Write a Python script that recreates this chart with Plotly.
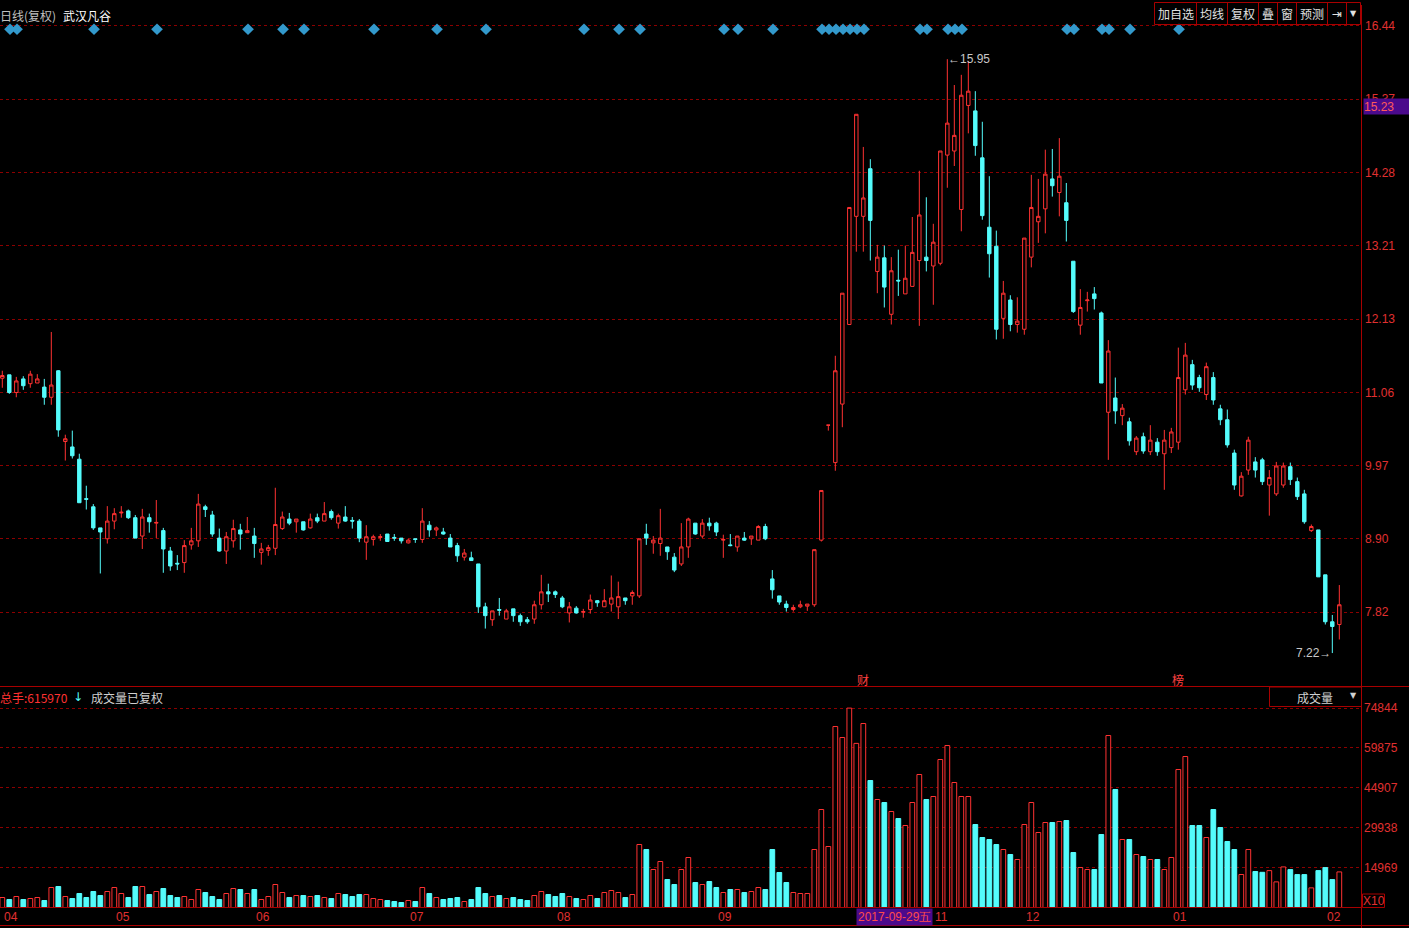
import plotly.graph_objects as go

# ---------------- data ----------------
open_ = [
    11.26, 11.31, 11.05, 11.25, 11.18, 11.19, 11.13, 10.98, 11.37, 10.33,
    10.25, 10.07, 9.49, 9.37, 9.06, 8.90, 9.16, 9.28, 9.31, 9.21,
    8.94, 9.21, 9.13, 9.02, 8.72, 8.54, 8.55, 8.81, 8.87, 9.37,
    9.25, 8.91, 8.72, 8.87, 9.03, 8.99, 8.94, 8.70, 8.73, 8.76,
    9.05, 9.19, 9.15, 9.15, 9.06, 9.21, 9.16, 9.30, 9.13, 9.22,
    9.17, 9.16, 8.85, 8.89, 8.92, 8.97, 8.92, 8.91, 8.84, 8.90,
    8.89, 9.10, 9.03, 9.00, 8.91, 8.80, 8.63, 8.62, 8.53, 7.90,
    7.71, 7.86, 7.72, 7.87, 7.77, 7.71, 7.72, 7.93, 8.12, 8.12,
    8.03, 7.81, 7.88, 7.82, 7.86, 7.99, 7.90, 7.94, 7.90, 8.03,
    8.06, 8.06, 8.97, 8.84, 8.83, 8.78, 8.63, 8.53, 8.78, 9.13,
    8.94, 9.13, 9.13, 8.88, 8.81, 8.78, 8.91, 8.90, 8.88, 9.08,
    8.31, 8.06, 7.94, 7.86, 7.90, 7.91, 7.93, 8.88, 10.57, 10.02,
    10.88, 12.05, 13.64, 13.64, 14.34, 12.83, 13.03, 12.20, 12.70, 12.50,
    12.61, 12.99, 13.04, 12.91, 12.95, 14.54, 14.60, 13.74, 15.27, 15.19,
    14.50, 13.48, 13.20, 12.14, 12.41, 12.05, 11.98, 13.04, 13.56, 13.75,
    14.19, 13.99, 13.84, 12.98, 12.04, 12.40, 12.50, 12.22, 10.76, 10.97,
    10.71, 10.62, 10.18, 10.40, 10.18, 10.32, 10.15, 10.24, 10.32, 11.09,
    11.46, 11.27, 11.02, 11.27, 10.81, 10.65, 10.16, 9.53, 9.91, 10.03,
    10.06, 9.69, 9.56, 9.69, 9.96, 9.74, 9.56, 9.02, 9.03, 8.37,
    7.68, 7.64,
]
high = [
    11.37, 11.31, 11.28, 11.29, 11.37, 11.32, 11.25, 11.94, 11.38, 10.43,
    10.49, 10.15, 9.68, 9.41, 9.06, 9.38, 9.35, 9.38, 9.33, 9.25,
    9.34, 9.27, 9.47, 9.06, 8.78, 8.66, 8.88, 9.06, 9.56, 9.40,
    9.31, 9.05, 9.00, 9.18, 9.12, 9.22, 9.06, 8.84, 8.81, 9.65,
    9.30, 9.28, 9.19, 9.15, 9.27, 9.27, 9.44, 9.33, 9.27, 9.38,
    9.22, 9.19, 9.10, 8.96, 8.97, 8.97, 8.97, 8.91, 8.90, 8.90,
    9.35, 9.16, 9.08, 9.06, 8.97, 8.84, 8.75, 8.71, 8.53, 7.96,
    7.84, 8.03, 7.87, 7.87, 7.80, 7.75, 7.99, 8.37, 8.24, 8.14,
    8.06, 7.97, 7.91, 7.87, 8.08, 8.00, 8.16, 8.36, 8.27, 8.03,
    8.14, 8.90, 9.12, 8.94, 9.34, 8.78, 8.69, 9.13, 9.21, 9.13,
    9.19, 9.21, 9.15, 8.96, 8.97, 8.94, 9.00, 8.94, 9.10, 9.12,
    8.44, 8.06, 7.99, 7.93, 7.99, 7.94, 8.74, 9.61, 10.57, 11.59,
    12.51, 13.77, 15.14, 14.66, 14.48, 13.22, 13.21, 13.04, 13.15, 13.21,
    13.63, 14.31, 13.92, 13.53, 14.60, 15.95, 15.57, 15.72, 15.92, 15.48,
    15.03, 14.23, 13.43, 12.69, 12.48, 12.45, 13.32, 14.25, 14.19, 14.62,
    14.63, 14.79, 14.13, 12.98, 12.57, 12.53, 12.60, 12.24, 11.82, 11.27,
    10.88, 10.68, 10.41, 10.46, 10.57, 10.38, 10.50, 10.53, 11.71, 11.78,
    11.53, 11.31, 11.49, 11.35, 10.87, 10.80, 10.21, 9.88, 10.40, 10.10,
    10.09, 9.91, 10.03, 10.02, 10.02, 9.80, 9.62, 9.11, 9.03, 8.37,
    7.78, 8.22,
]
low = [
    11.12, 11.03, 10.98, 11.09, 11.12, 11.19, 10.87, 10.87, 10.40, 10.05,
    10.08, 9.43, 9.33, 9.03, 8.39, 8.83, 9.04, 9.21, 9.19, 8.91,
    8.75, 8.99, 8.91, 8.40, 8.43, 8.44, 8.40, 8.74, 8.78, 9.22,
    8.93, 8.71, 8.53, 8.77, 8.74, 8.99, 8.62, 8.52, 8.65, 8.66,
    9.03, 9.10, 8.99, 9.02, 9.05, 9.13, 9.16, 9.18, 9.05, 9.15,
    9.05, 8.85, 8.59, 8.80, 8.87, 8.86, 8.87, 8.83, 8.83, 8.84,
    8.84, 8.93, 8.94, 8.96, 8.78, 8.56, 8.58, 8.58, 7.81, 7.58,
    7.62, 7.77, 7.72, 7.68, 7.62, 7.65, 7.65, 7.86, 7.97, 8.03,
    7.88, 7.67, 7.80, 7.74, 7.80, 7.90, 7.90, 7.83, 7.72, 7.93,
    7.93, 8.03, 8.81, 8.68, 8.65, 8.59, 8.41, 8.50, 8.62, 8.96,
    8.91, 9.02, 8.94, 8.62, 8.79, 8.71, 8.87, 8.81, 8.88, 8.88,
    8.02, 7.93, 7.83, 7.83, 7.88, 7.84, 7.90, 8.86, 10.49, 9.90,
    10.54, 12.05, 13.12, 13.12, 12.99, 12.51, 12.30, 12.05, 12.47, 12.50,
    12.61, 12.03, 12.83, 12.34, 12.92, 14.06, 14.38, 13.42, 14.86, 14.53,
    13.59, 12.74, 11.83, 11.84, 11.95, 11.93, 11.90, 12.89, 13.25, 13.39,
    13.93, 13.64, 13.27, 12.22, 11.90, 12.24, 12.27, 11.19, 10.06, 10.59,
    10.57, 10.27, 10.13, 10.15, 10.13, 10.12, 9.62, 10.16, 10.21, 11.02,
    11.09, 11.06, 10.94, 10.87, 10.57, 10.24, 9.62, 9.52, 9.84, 9.80,
    9.69, 9.24, 9.53, 9.65, 9.69, 9.47, 9.12, 9.00, 8.34, 7.64,
    7.22, 7.42,
]
close = [
    11.30, 11.05, 11.22, 11.15, 11.32, 11.25, 10.98, 11.16, 10.50, 10.37,
    10.12, 9.43, 9.48, 9.06, 9.00, 9.16, 9.27, 9.29, 9.21, 8.91,
    9.22, 9.15, 9.14, 8.75, 8.50, 8.53, 8.80, 8.87, 9.41, 9.33,
    8.97, 8.72, 8.93, 9.05, 8.97, 9.02, 8.83, 8.75, 8.77, 9.11,
    9.22, 9.13, 9.19, 9.03, 9.19, 9.16, 9.27, 9.21, 9.24, 9.16,
    9.16, 8.91, 8.93, 8.93, 8.93, 8.86, 8.91, 8.87, 8.88, 8.89,
    9.16, 9.03, 9.06, 8.97, 8.78, 8.65, 8.69, 8.58, 7.90, 7.77,
    7.84, 7.85, 7.84, 7.77, 7.68, 7.68, 7.93, 8.12, 8.09, 8.08,
    7.90, 7.90, 7.81, 7.83, 8.00, 7.96, 7.99, 8.03, 8.05, 7.99,
    8.11, 8.90, 8.91, 8.88, 8.91, 8.71, 8.44, 8.78, 9.19, 8.97,
    9.13, 9.09, 9.00, 8.89, 8.80, 8.94, 8.88, 8.94, 9.08, 8.90,
    8.15, 7.97, 7.89, 7.89, 7.93, 7.94, 8.74, 9.61, 10.57, 11.37,
    12.51, 13.77, 15.14, 13.91, 13.58, 13.04, 12.60, 12.84, 12.69, 12.73,
    13.11, 13.66, 12.99, 13.26, 14.60, 15.01, 14.83, 15.42, 15.48, 14.68,
    13.65, 13.09, 11.98, 12.51, 12.05, 12.10, 13.32, 13.77, 13.64, 14.26,
    14.09, 14.23, 13.58, 12.24, 12.30, 12.41, 12.43, 11.19, 11.66, 10.78,
    10.82, 10.34, 10.38, 10.19, 10.35, 10.18, 10.35, 10.47, 11.27, 11.60,
    11.16, 11.12, 11.43, 10.94, 10.65, 10.28, 9.69, 9.82, 10.35, 9.91,
    9.74, 9.80, 9.97, 9.97, 9.77, 9.52, 9.15, 9.08, 8.34, 7.68,
    7.61, 7.93,
]
# volume in the units shown on the axis (x10 hands)
volume = [
    3753, 3002, 4128, 3002, 3378, 3753, 2627, 7506, 7881, 4128,
    3378, 5254, 3753, 6005, 4504, 6005, 7506, 5254, 3753, 7881,
    7881, 4879, 6005, 7131, 4504, 3753, 4128, 3002, 6755, 5630,
    4128, 3002, 5254, 7131, 6755, 5254, 6755, 3002, 4128, 8632,
    5630, 3753, 4504, 4504, 4128, 4504, 3753, 3378, 5254, 4879,
    4128, 4879, 4879, 3378, 3002, 2627, 2252, 1877, 2627, 2252,
    7506, 5254, 3753, 3002, 3378, 3753, 2252, 3002, 7506, 5254,
    4128, 4504, 3378, 3753, 3002, 2627, 4504, 6005, 4879, 4128,
    5254, 4128, 3378, 3002, 4504, 3378, 5630, 6380, 5630, 3753,
    4879, 23644, 21767, 14261, 17264, 10508, 8632, 14261, 18765, 9383,
    8632, 9758, 7506, 5630, 6755, 6755, 5630, 6005, 7506, 6755,
    21767, 13136, 9383, 5630, 5254, 5254, 21767, 36779, 22893, 67929,
    63801, 74844, 61597, 69055, 47663, 40532, 39407, 36029, 33402, 30775,
    39407, 49915, 40532, 41658, 55544, 60799, 46913, 41658, 41658, 31150,
    26271, 25520, 23644, 21767, 19891, 18014, 31150, 39407, 28148, 31901,
    31901, 32276, 32651, 20642, 15012, 14261, 14261, 27397, 64552, 44285,
    25520, 25520, 19891, 19140, 18014, 18014, 14261, 18765, 51791, 56670,
    30775, 30775, 26271, 36779, 30024, 24770, 21767, 12385, 21767, 13511,
    13209, 13845, 9617, 15230, 14220, 12349, 12349, 7372, 13845, 14968,
    10478, 13359,
]
signal_days = [1, 2, 13, 22, 35, 40, 43, 53, 62, 69, 83, 88, 91, 103, 105, 110,
               117, 118, 119, 120, 121, 122, 123, 131, 132, 135, 136, 137,
               152, 153, 157, 158, 161, 168]
month_ticks = [0, 16, 36, 58, 79, 102, 133, 146, 167, 189]
month_labels = ["04", "05", "06", "07", "08", "09", "11", "12", "01", "02"]
price_ticks = [16.44, 15.3625, 14.285, 13.2075, 12.13, 11.0525, 9.975, 8.8975, 7.82]
price_labels = ["16.44", "15.37", "14.28", "13.21", "12.13", "11.06", "9.97", "8.90", "7.82"]
vol_ticks = [14969, 29938, 44907, 59875, 74844]
vol_labels = ["14969", "29938", "44907", "59875", "74844"]
cursor_day = 122
cursor_label = "2017-09-29五"
cursor_price = "15.23"
total_hands = "615970"
high_day, high_label = 135, "15.95"
low_day, low_label = 190, "7.22"
event_marks = [(123, "财"), (168, "榜")]

# ---------------- styling ----------------
W, H = 1409, 928
RED = "#ff3232"
CYAN = "#54fcfc"
AXRED = "#e03030"
GRID = "#8c0000"
FRAME = "#a80000"
NUMFONT = "Liberation Sans, Arial, sans-serif"
CJK = "Noto Sans CJK SC, sans-serif"
PLOT_R = 1362   # right edge of the plotting area in pixels


def px(x):
    # paper coordinates span the plotting area (0..PLOT_R px)
    return x / PLOT_R


def py(y):
    return 1 - y / H


n = len(close)
idx = list(range(n))

# colours of volume bars follow the candle direction
up = []
for i in range(n):
    if close[i] > open_[i]:
        up.append(True)
    elif close[i] < open_[i]:
        up.append(False)
    else:
        up.append(close[i] >= (close[i - 1] if i else close[i]))

fig = go.Figure()
fig.add_trace(go.Candlestick(
    x=idx, open=open_, high=high, low=low, close=close,
    increasing=dict(line=dict(color=RED, width=1), fillcolor="#000000"),
    decreasing=dict(line=dict(color=CYAN, width=1), fillcolor=CYAN),
    whiskerwidth=0, hoverinfo="skip", xaxis="x", yaxis="y", showlegend=False,
))
fig.add_trace(go.Bar(
    x=idx, y=volume, width=0.68,
    marker=dict(color=["#000000" if u else CYAN for u in up],
                line=dict(color=[RED if u else CYAN for u in up], width=1)),
    xaxis="x", yaxis="y2", hoverinfo="skip", showlegend=False,
))
fig.add_trace(go.Scatter(
    x=[d + 0.1 for d in signal_days], y=[16.39] * len(signal_days), mode="markers",
    marker=dict(symbol="diamond", size=9, color="#3399cc", line=dict(width=0)),
    xaxis="x", yaxis="y", hoverinfo="skip", showlegend=False,
))

ann = []
# month labels on the time axis
for t, lab in zip(month_ticks, month_labels):
    ann.append(dict(x=max(t, -0.3), y=py(917), xref="x", yref="paper", text=lab,
                    showarrow=False, xanchor="left", yanchor="middle",
                    font=dict(family=NUMFONT, size=12, color=AXRED)))
# cursor date label
ann.append(dict(x=cursor_day - 0.05, y=py(916.5), xref="x", yref="paper", text=cursor_label,
                showarrow=False, xanchor="left", yanchor="middle", bgcolor="#4b0a8c",
                borderpad=1, font=dict(family=NUMFONT, size=12, color="#ff4a4a")))
# cursor price label
ann.append(dict(x=px(PLOT_R + 1), y=py(106.5), xref="paper", yref="paper", text=cursor_price,
                showarrow=False, xanchor="left", yanchor="middle", bgcolor="#4b0a8c",
                width=45, height=15, align="left", borderpad=0,
                font=dict(family=NUMFONT, size=12, color="#ff5a5a")))
# high / low marks
ann.append(dict(x=high_day, y=high[high_day], xref="x", yref="y", text="←" + high_label,
                showarrow=False, xanchor="left", yanchor="middle", xshift=-1,
                font=dict(family=NUMFONT, size=12, color="#c8c8c8")))
ann.append(dict(x=low_day, y=low[low_day], xref="x", yref="y", text=low_label + "→",
                showarrow=False, xanchor="right", yanchor="middle", xshift=1,
                font=dict(family=NUMFONT, size=12, color="#c8c8c8")))
# event marks
for d, t in event_marks:
    ann.append(dict(x=d, y=py(679), xref="x", yref="paper", text=t, showarrow=False,
                    xanchor="center", yanchor="middle",
                    font=dict(family=CJK, size=12, color="#ff4040")))
# title
ann.append(dict(x=px(-2), y=py(15), xref="paper", yref="paper", text="日线(复权)",
                showarrow=False, xanchor="left", yanchor="middle",
                font=dict(family=CJK, size=12, color="#c0c0c0")))
ann.append(dict(x=px(61), y=py(15), xref="paper", yref="paper", text="武汉凡谷",
                showarrow=False, xanchor="left", yanchor="middle",
                font=dict(family=CJK, size=12, color="#ffffff")))
# volume header
ann.append(dict(x=px(-2), y=py(697), xref="paper", yref="paper", text="总手:" + total_hands,
                showarrow=False, xanchor="left", yanchor="middle",
                font=dict(family=CJK, size=12, color=RED)))
ann.append(dict(x=px(71), y=py(697), xref="paper", yref="paper", text="↓",
                showarrow=False, xanchor="left", yanchor="middle",
                font=dict(family="DejaVu Sans", size=12, color=CYAN)))
ann.append(dict(x=px(89), y=py(697), xref="paper", yref="paper", text="成交量已复权",
                showarrow=False, xanchor="left", yanchor="middle",
                font=dict(family=CJK, size=12, color="#d0d0d0")))
# volume selector
ann.append(dict(x=px(1315), y=py(697), xref="paper", yref="paper", text="成交量",
                showarrow=False, xanchor="center", yanchor="middle",
                font=dict(family=CJK, size=12, color="#d0d0d0")))
ann.append(dict(x=px(1353), y=py(695), xref="paper", yref="paper", text="▼",
                showarrow=False, xanchor="center", yanchor="middle",
                font=dict(family="DejaVu Sans", size=8, color="#d0d0d0")))
ann.append(dict(x=px(1373.5), y=py(901), xref="paper", yref="paper", text="X10",
                showarrow=False, xanchor="center", yanchor="middle",
                font=dict(family=NUMFONT, size=12, color=AXRED)))
# toolbar buttons
buttons = [("加自选", 1175.5), ("均线", 1212), ("复权", 1243), ("叠", 1267.5),
           ("窗", 1287), ("预测", 1312), ("⇥", 1336.5), ("▼", 1353)]
for t, cx in buttons:
    ann.append(dict(x=px(cx), y=py(14), xref="paper", yref="paper", text=t,
                    showarrow=False, xanchor="center", yanchor="middle",
                    font=dict(family=CJK if t not in ("⇥", "▼") else "DejaVu Sans",
                              size=12 if t not in ("▼",) else 8,
                              color="#e0e0e0")))

shapes = []


def line(x0, y0, x1, y1, color=FRAME, width=1, dash="solid"):
    shapes.append(dict(type="line", xref="paper", yref="paper",
                       x0=px(x0), y0=py(y0), x1=px(x1), y1=py(y1),
                       line=dict(color=color, width=width, dash=dash)))


def rect(x0, y0, x1, y1, color=FRAME, fill="rgba(0,0,0,0)"):
    shapes.append(dict(type="rect", xref="paper", yref="paper",
                       x0=px(x0), y0=py(y0), x1=px(x1), y1=py(y1),
                       line=dict(color=color, width=1), fillcolor=fill))


line(0, 686.5, W, 686.5)
line(0, 907.5, PLOT_R, 907.5)
line(0, 925.5, W, 925.5)
line(PLOT_R - 0.5, 5, PLOT_R - 0.5, H)
rect(1154.5, 2.5, 1360.5, 24.5)
for xd in [1196.5, 1227.5, 1258.5, 1277.5, 1296.5, 1327.5, 1346.5]:
    line(xd, 2.5, xd, 24.5)
rect(1269.5, 687, 1361.5, 706.5)
rect(1362.5, 894, 1384.5, 907.5)

fig.update_layout(
    width=W, height=H,
    margin=dict(l=0, r=W - PLOT_R, t=0, b=0),
    paper_bgcolor="#000000", plot_bgcolor="#000000",
    showlegend=False, hovermode=False, dragmode=False,
    boxgap=0.3,
    xaxis=dict(domain=[0, 1], range=[-0.33, 194.24], anchor="y2",
               showgrid=False, zeroline=False, showticklabels=False, ticks="",
               showline=False, rangeslider=dict(visible=False), fixedrange=True),
    yaxis=dict(domain=[py(686.5), 1], range=[6.7285, 16.82], side="right", anchor="x",
               tickvals=price_ticks, ticktext=price_labels, ticks="",
               ticklabelstandoff=2,
               showgrid=True, gridcolor=GRID, griddash="dot", gridwidth=1,
               zeroline=False, showline=False, fixedrange=True,
               tickfont=dict(family=NUMFONT, size=12, color=AXRED)),
    yaxis2=dict(domain=[py(907.5), py(686.5)], range=[0, 82950], side="right", anchor="x",
                tickvals=vol_ticks, ticktext=vol_labels, ticks="",
                ticklabelstandoff=1,
                showgrid=True, gridcolor=GRID, griddash="dot", gridwidth=1,
                zeroline=False, showline=False, fixedrange=True,
                tickfont=dict(family=NUMFONT, size=12, color=AXRED)),
    annotations=ann, shapes=shapes,
)

fig.write_html(
    "out.html",
    config={"displayModeBar": False, "staticPlot": True},
    post_script="document.body.style.margin='0px';document.body.style.background='#000';",
)
